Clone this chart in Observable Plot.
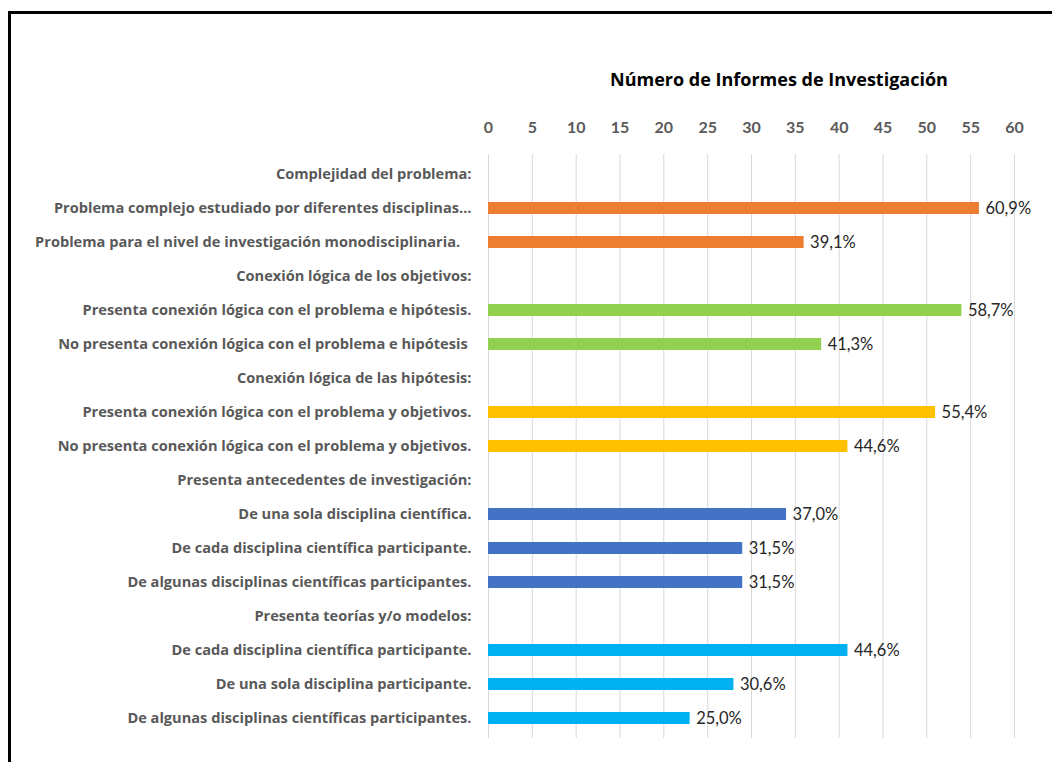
<!DOCTYPE html>
<html>
<head>
<meta charset="utf-8">
<script src="https://cdn.jsdelivr.net/npm/d3@7"></script>
<script src="https://cdn.jsdelivr.net/npm/@observablehq/plot@0.6"></script>
<style>
  html, body { margin: 0; padding: 0; background: #fff; overflow: hidden; }
  #wrap { position: relative; width: 1052px; height: 762px; }
  #frame { position: absolute; left: 8px; top: 11px; width: 1100px; height: 800px; border-left: 3px solid #000; border-top: 3px solid #000; box-sizing: border-box; }
  #title { position: absolute; top: 67px; left: 529px; width: 500px; text-align: center; font-family: "Open Sans", sans-serif; font-weight: bold; font-size: 18px; color: #000; }
  #chart { position: absolute; left: 0; top: 0; }
</style>
</head>
<body>
<div id="wrap">
  <div id="frame"></div>
  <div id="title">Número de Informes de Investigación</div>
  <div id="chart"></div>
</div>
<script>
const labels = [
  "Complejidad del problema:",
  "Problema complejo estudiado por diferentes disciplinas…",
  "Problema para el nivel de investigación monodisciplinaria.\u00a0\u00a0\u00a0",
  "Conexión lógica de los objetivos:",
  "Presenta conexión lógica con el problema e hipótesis.",
  "No presenta conexión lógica con el problema e hipótesis\u00a0",
  "Conexión lógica de las hipótesis:",
  "Presenta conexión lógica con el problema y objetivos.",
  "No presenta conexión lógica con el problema y objetivos.",
  "Presenta antecedentes de investigación:",
  "De una sola disciplina científica.",
  "De cada disciplina científica participante.",
  "De algunas disciplinas científicas participantes.",
  "Presenta teorías y/o modelos:",
  "De cada disciplina científica participante.",
  "De una sola disciplina participante.",
  "De algunas disciplinas científicas participantes."
];
const values = [null, 56, 36, null, 54, 38, null, 51, 41, null, 34, 29, 29, null, 41, 28, 23];
const pctLabels = ["", "60,9%", "39,1%", "", "58,7%", "41,3%", "", "55,4%", "44,6%", "", "37,0%", "31,5%", "31,5%", "", "44,6%", "30,6%", "25,0%"];
const groups = ["", "g1", "g1", "", "g2", "g2", "", "g3", "g3", "", "g4", "g4", "g4", "", "g5", "g5", "g5"];
const groupNames = ["g1", "g2", "g3", "g4", "g5"];
const groupColors = ["#ED7D31", "#92D050", "#FFC000", "#4472C4", "#00B0F0"];
const xTicks = [0, 5, 10, 15, 20, 25, 30, 35, 40, 45, 50, 55, 60];

const rows = labels.map((l, i) => ({i, label: l, value: values[i], pct: pctLabels[i], group: groups[i]}));
const bars = rows.filter(d => d.value != null);

const chart = Plot.plot({
  width: 1052,
  height: 762,
  marginLeft: 488,
  marginRight: 38,
  marginTop: 154,
  marginBottom: 24,
  style: {fontFamily: "Lato, sans-serif", background: "transparent"},
  x: {domain: [0, 60], ticks: xTicks},
  y: {domain: d3.range(labels.length), paddingInner: 0.65, paddingOuter: 0.325},
  color: {domain: groupNames, range: groupColors},
  marks: [
    Plot.gridX(xTicks, {stroke: "#d9d9d9", strokeOpacity: 1, strokeWidth: 1}),
    Plot.axisX({anchor: "top", ticks: xTicks, tickSize: 0, tickPadding: 22, label: null, fontSize: 16, fontWeight: "bold", fill: "#595959"}),
    Plot.axisY({tickSize: 0, tickPadding: 17, tickFormat: i => labels[i], label: null, fontFamily: "'Open Sans', sans-serif", fontSize: 14.6, fontWeight: "bold", fill: "#595959"}),
    Plot.barX(bars, {x: "value", y: "i", fill: "group"}),
    Plot.text(bars, {x: "value", y: "i", text: "pct", textAnchor: "start", dx: 6, fontSize: 16.5, fill: "#262626"})
  ]
});
document.getElementById("chart").appendChild(chart);
</script>
</body>
</html>
